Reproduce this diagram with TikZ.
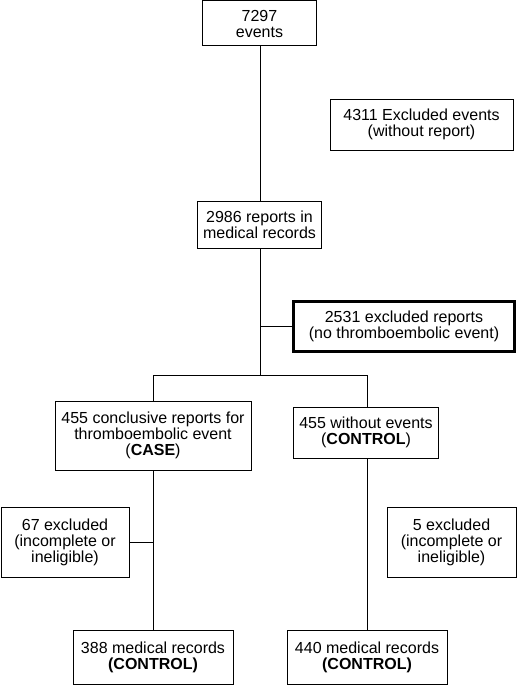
\documentclass[tikz,border=0pt]{standalone}
\usepackage{fontspec}
\setmainfont{Liberation Sans}
\begin{document}
\begin{tikzpicture}[x=1pt,y=-1pt,
  box/.style={draw, line width=1pt, inner sep=0pt, align=center,
    font=\fontsize{16}{16}\selectfont},
  thickbox/.style={box, line width=2.4pt},
  conn/.style={line width=1pt}]
\useasboundingbox (0,0) rectangle (517,685);
\node[box, minimum width=114pt, minimum height=45pt] (ev) at (259.5,23.5) {7297\\events};
\node[box, minimum width=183pt, minimum height=51pt] (ex1) at (421.5,124.5) {4311 Excluded events\\(without report)};
\node[box, minimum width=124pt, minimum height=47pt] (rep) at (259.5,224.5) {2986 reports in\\medical records};
\node[thickbox, minimum width=221pt, minimum height=50pt] (ex2) at (404,326.5) {2531 excluded reports\\(no thromboembolic event)};
\node[box, minimum width=196pt, minimum height=69pt] (case) at (153,435.5) {455 conclusive reports for\\thromboembolic event\\(\textbf{CASE})};
\node[box, minimum width=145pt, minimum height=51pt] (ctrl) at (366,432.5) {455 without events\\(\textbf{CONTROL})};
\node[box, minimum width=128pt, minimum height=70pt] (ex3) at (65,542) {67 excluded\\(incomplete or\\ineligible)};
\node[box, minimum width=129pt, minimum height=70pt] (ex4) at (451.5,542) {5 excluded\\(incomplete or\\ineligible)};
\node[box, minimum width=160pt, minimum height=54pt] (r388) at (153,657) {388 medical records\\\textbf{(CONTROL)}};
\node[box, minimum width=160pt, minimum height=54pt] (r440) at (367,657) {440 medical records\\\textbf{(CONTROL)}};
\coordinate (j1) at (260,326.5);
\coordinate (br) at (260,375);
\coordinate (bl) at (153,375);
\coordinate (brr) at (367,375);
\coordinate (j2) at (153,542);
\draw[conn] (ev.south -| br) -- (rep.north -| br);
\draw[conn] (rep.south -| br) -- (br);
\draw[conn] (j1) -- (ex2.west);
\draw[conn] (bl) -- (brr);
\draw[conn] (bl) -- (case.north);
\draw[conn] (brr) -- (brr |- ctrl.north);
\draw[conn] (case.south) -- (r388.north);
\draw[conn] (j2) -- (ex3.east);
\draw[conn] (brr |- ctrl.south) -- (r440.north);
\end{tikzpicture}
\end{document}
